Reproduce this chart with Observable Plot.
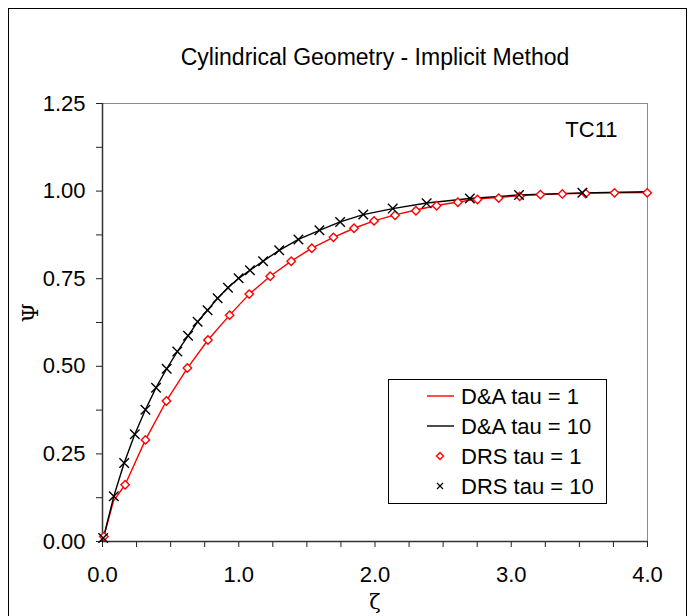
<!DOCTYPE html>
<html>
<head>
<meta charset="utf-8">
<script src="https://cdn.jsdelivr.net/npm/d3@7"></script>
<script src="https://cdn.jsdelivr.net/npm/@observablehq/plot@0.6"></script>
<style>
  html, body { margin: 0; padding: 0; background: #fff; }
  #wrap { position: relative; width: 694px; height: 616px; overflow: hidden; font-family: "Liberation Sans", Arial, sans-serif; }
  #outer { position: absolute; left: 8px; top: 8px; width: 679px; height: 660px; border: 1px solid #000; box-sizing: border-box; pointer-events: none; }
  #chart { position: absolute; left: 0; top: 0; }
  #legend { position: absolute; left: 388px; top: 379px; width: 219px; height: 125px; border: 1px solid #000; box-sizing: border-box; background: #fff; }
</style>
</head>
<body>
<div id="wrap">
  <div id="outer"></div>
  <div id="chart"></div>
  <div id="legend"></div>
</div>
<script>
// ---- Data ----
const title = "Cylindrical Geometry - Implicit Method";
const caseLabel = "TC11";
const xLabel = "ζ";
const yLabel = "Ψ";

const xMajorTicks = [0, 1, 2, 3, 4];
const xMinorTicks = [0.25, 0.5, 0.75, 1.25, 1.5, 1.75, 2.25, 2.5, 2.75, 3.25, 3.5, 3.75];
const yMajorTicks = [0, 0.25, 0.5, 0.75, 1.0, 1.25];
const yMinorTicks = [0.125, 0.375, 0.625, 0.875, 1.125];

const seriesNames = ["D&A tau = 1", "D&A tau = 10", "DRS tau = 1", "DRS tau = 10"];

// D&A analytic curves
const zetaDA1 = [0, 0.08, 0.166, 0.315, 0.469, 0.623, 0.774, 0.933, 1.077, 1.231, 1.385, 1.536, 1.695, 1.846, 1.993, 2.147, 2.300, 2.452, 2.608, 2.752, 2.908, 3.062, 3.214, 3.375, 3.546, 3.758, 4.0];
const psiDA1  = [0, 0.115, 0.162, 0.290, 0.401, 0.495, 0.575, 0.646, 0.706, 0.757, 0.800, 0.837, 0.868, 0.894, 0.915, 0.932, 0.946, 0.959, 0.969, 0.977, 0.982, 0.987, 0.990, 0.992, 0.994, 0.995, 0.996];

const zetaDA10 = [0, 0.083, 0.159, 0.237, 0.315, 0.393, 0.471, 0.549, 0.628, 0.698, 0.771, 0.845, 0.921, 0.999, 1.082, 1.179, 1.297, 1.438, 1.592, 1.744, 1.914, 2.130, 2.379, 2.696, 3.057, 3.522, 4.0];
const psiDA10  = [0, 0.129, 0.224, 0.306, 0.376, 0.439, 0.493, 0.542, 0.587, 0.627, 0.660, 0.694, 0.724, 0.751, 0.774, 0.800, 0.831, 0.862, 0.888, 0.912, 0.933, 0.950, 0.966, 0.979, 0.989, 0.995, 0.998];

// DRS numerical points
const zetaDRS1 = [0.01, 0.166, 0.315, 0.469, 0.623, 0.774, 0.933, 1.077, 1.231, 1.385, 1.536, 1.695, 1.846, 1.993, 2.147, 2.300, 2.452, 2.608, 2.752, 2.908, 3.062, 3.214, 3.375, 3.546, 3.758, 3.998];
const psiDRS1  = [0.014, 0.162, 0.290, 0.401, 0.495, 0.575, 0.646, 0.706, 0.757, 0.800, 0.837, 0.868, 0.894, 0.915, 0.931, 0.944, 0.958, 0.968, 0.976, 0.980, 0.985, 0.990, 0.992, 0.993, 0.995, 0.995];

const zetaDRS10 = [0.005, 0.083, 0.159, 0.237, 0.315, 0.393, 0.471, 0.549, 0.628, 0.698, 0.771, 0.845, 0.921, 0.999, 1.082, 1.179, 1.297, 1.438, 1.592, 1.744, 1.914, 2.130, 2.379, 2.696, 3.057, 3.522];
const psiDRS10  = [0.010, 0.129, 0.224, 0.306, 0.376, 0.439, 0.493, 0.542, 0.587, 0.627, 0.660, 0.694, 0.724, 0.751, 0.774, 0.800, 0.831, 0.862, 0.888, 0.912, 0.933, 0.950, 0.965, 0.979, 0.989, 0.995];

const colors = ["#ff0000", "#000000", "#ff0000", "#000000"];

// ---- Build tables ----
const zip = (xs, ys) => xs.map((x, i) => ({x, y: ys[i]}));
const da1 = zip(zetaDA1, psiDA1);
const da10 = zip(zetaDA10, psiDA10);
const drs1 = zip(zetaDRS1, psiDRS1);
const drs10 = zip(zetaDRS10, psiDRS10);

const FONT = "'Liberation Sans', Arial, sans-serif";
const SERIF = "'DejaVu Serif', 'Liberation Serif', serif";

const chart = Plot.plot({
  width: 694,
  height: 616,
  marginLeft: 102,
  marginRight: 47,
  marginTop: 103,
  marginBottom: 75,
  style: {fontFamily: FONT, fontSize: "22px", color: "#000", background: "transparent", overflow: "visible"},
  x: {domain: [0, 4], label: null},
  y: {domain: [0, 1.25], label: null},
  marks: [
    Plot.ruleY([1.25], {stroke: "#8c8c8c", strokeWidth: 1}),
    Plot.ruleX([4], {stroke: "#8c8c8c", strokeWidth: 1}),
    Plot.axisX(xMinorTicks, {tickSize: 6, tickFormat: () => "", stroke: "#222", label: null}),
    Plot.axisX(xMajorTicks, {tickSize: 6, tickPadding: 19, tickFormat: d => d.toFixed(1), stroke: "#222", fontSize: 22, label: null}),
    Plot.axisY(yMinorTicks, {tickSize: 6, tickFormat: () => "", stroke: "#222", label: null}),
    Plot.axisY(yMajorTicks, {tickSize: 6, tickPadding: 11, tickFormat: d => d.toFixed(2), stroke: "#222", fontSize: 22, label: null}),
    Plot.ruleX([0], {stroke: "#333", strokeWidth: 1.5}),
    Plot.ruleY([0], {stroke: "#333", strokeWidth: 1.5}),
    Plot.line(da1, {x: "x", y: "y", stroke: colors[0], strokeWidth: 1.4}),
    Plot.line(da10, {x: "x", y: "y", stroke: colors[1], strokeWidth: 1.4}),
    Plot.dot(drs1, {x: "x", y: "y", symbol: "diamond2", r: 3.8, stroke: colors[2], fill: "#fff", strokeWidth: 1.4}),
    Plot.dot(drs10, {x: "x", y: "y", symbol: "times", r: 4.4, stroke: colors[3], strokeWidth: 1.4}),
    Plot.text([title], {frameAnchor: "top", lineAnchor: "middle", dy: -46, fontSize: 23, fontFamily: FONT, fill: "#000"}),
    Plot.text([caseLabel], {frameAnchor: "top-right", lineAnchor: "middle", dx: -30, dy: 26, fontSize: 22, fontFamily: FONT, fill: "#000"}),
    Plot.text([yLabel], {frameAnchor: "left", lineAnchor: "middle", dx: -72, rotate: -90, fontSize: 22, fontFamily: SERIF, fill: "#000"}),
    Plot.text([xLabel], {frameAnchor: "bottom", lineAnchor: "middle", dy: 61, fontSize: 21, fontFamily: SERIF, fill: "#000"})
  ]
});
document.getElementById("chart").appendChild(chart);

// ---- Legend ----
const legend = d3.select("#legend").append("svg")
  .attr("width", 217).attr("height", 123)
  .style("display", "block");
const rows = legend.selectAll("g").data(seriesNames).join("g")
  .attr("transform", (d, i) => `translate(0,${16 + i * 30})`);
rows.each(function(d, i) {
  const g = d3.select(this);
  if (i < 2) {
    g.append("line").attr("x1", 38).attr("x2", 65).attr("y1", 0).attr("y2", 0)
      .attr("stroke", colors[i]).attr("stroke-width", 1.4);
  } else if (i === 2) {
    g.append("path").attr("d", "M51,-3.5L54.5,0L51,3.5L47.5,0Z")
      .attr("fill", "#fff").attr("stroke", colors[i]).attr("stroke-width", 1.4);
  } else {
    g.append("path").attr("d", "M48,-3L54,3M48,3L54,-3")
      .attr("stroke", colors[i]).attr("stroke-width", 1.2);
  }
  g.append("text").attr("x", 72).attr("y", 0).attr("dy", "0.36em")
    .attr("font-family", FONT).attr("font-size", 22).attr("fill", "#000").text(d);
});
</script>
</body>
</html>
